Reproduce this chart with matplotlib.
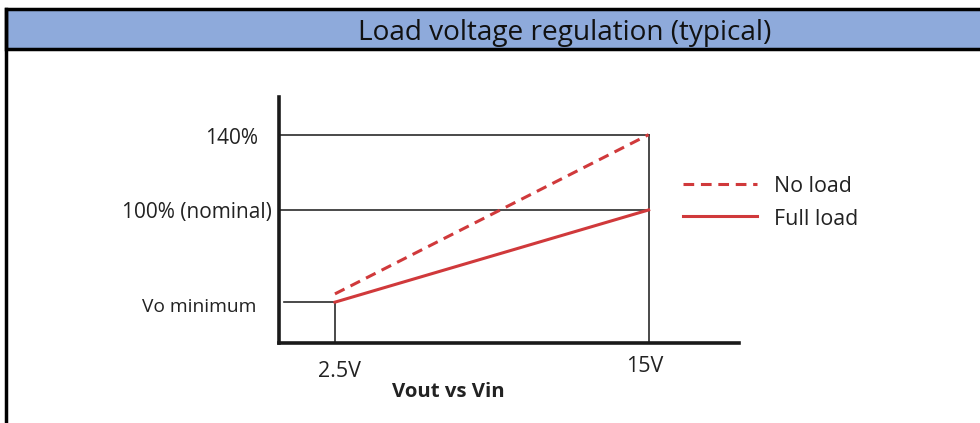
import matplotlib.pyplot as plt
from matplotlib.patches import Rectangle
from matplotlib.lines import Line2D

W, H = 980, 423

# values (Vin in volts, Vout in % of nominal)
vin = [2.5, 15.0]
no_load = [55.4, 140.0]
full_load = [51.0, 100.0]
vo_min = 51.0
nominal = 100.0
top_level = 140.0
x_tick_vals = [2.5, 15.0]
x_tick_labels = ["2.5V", "15V"]
y_labels = ["140%", "100% (nominal)", "Vo minimum"]
series_names = ["No load", "Full load"]

RED = "#D0393B"
GUIDE = "#2b2b2b"
FONT = "Open Sans"


def px(x0, y0, x1, y1):
    """pixel box (top-left origin) -> figure fraction rect"""
    return [x0 / W, 1 - y1 / H, (x1 - x0) / W, (y1 - y0) / H]


def main() -> None:
    plt.rcParams["font.family"] = [FONT, "DejaVu Sans"]
    fig = plt.figure(figsize=(W / 100, H / 100), dpi=100)

    # header band
    fig.patches.append(Rectangle((6 / W, 1 - 49 / H), 1.2, 40 / H, transform=fig.transFigure,
                                 facecolor="#8EAADB", edgecolor="black", lw=2.5))
    fig.add_artist(Line2D([6 / W, 6 / W], [0, 1 - 9 / H], color="black", lw=2.5))
    fig.text(565 / W, 1 - 33 / H, "Load voltage regulation (typical)", ha="center",
             va="center", fontsize=20.2, color="#111111")

    ax = fig.add_axes(px(279, 97, 739, 343))
    xmin, xmax = 0.27, 18.6
    ymin, ymax = 29.3, 160.0
    ax.set_xlim(xmin, xmax)
    ax.set_ylim(ymin, ymax)
    for side in ("top", "right"):
        ax.spines[side].set_visible(False)
    for side in ("left", "bottom"):
        ax.spines[side].set_linewidth(2.6)
        ax.spines[side].set_color("#1a1a1a")
    ax.set_xticks([])
    ax.set_yticks([])
    ax.patch.set_alpha(0)

    # guide lines
    ax.plot([xmin, vin[1]], [top_level, top_level], color=GUIDE, lw=1.2)
    ax.plot([xmin, vin[1]], [nominal, nominal], color=GUIDE, lw=1.2)
    ax.plot([vin[1], vin[1]], [ymin, top_level], color=GUIDE, lw=1.2)
    ax.plot([0.45, vin[0]], [vo_min, vo_min], color=GUIDE, lw=1.2)
    ax.plot([vin[0], vin[0]], [ymin, vo_min], color=GUIDE, lw=1.2)

    ax.plot(vin, no_load, color=RED, lw=2.2, ls=(0, (3.5, 2.2)))
    ax.plot(vin, full_load, color=RED, lw=2.2)

    # y labels
    label_y = [top_level, nominal, vo_min]
    label_off = [(-15, -2.5), (-5, -1.5), (-16.5, -3.5)]
    label_size = [15, 15, 13.8]
    for txt, yv, off, fs in zip(y_labels, label_y, label_off, label_size):
        ax.annotate(txt, (xmin, yv), xytext=off, textcoords="offset points",
                    ha="right", va="center", fontsize=fs, color="#222222")

    # x labels
    for xv, txt, off in zip(x_tick_vals, x_tick_labels, [(3, -20.5), (-3, -17)]):
        ax.annotate(txt, (xv, ymin), xytext=off, textcoords="offset points",
                    ha="center", va="center", fontsize=15.5, color="#222222")
    ax.annotate("Vout vs Vin", (7.0, ymin), xytext=(0, -35), textcoords="offset points",
                ha="center", va="center", fontsize=14.7, fontweight="bold", color="#222222")

    # legend (drawn by hand to sit where the original does)
    leg = fig.add_axes(px(680, 170, 900, 232))
    leg.set_xlim(0, 1)
    leg.set_ylim(0, 1)
    leg.axis("off")
    for i, name in enumerate(series_names):
        yy = 0.78 - i * 0.53
        leg.plot([0.015, 0.35], [yy, yy], color=RED, lw=2.2,
                 ls=(0, (3.5, 2.2)) if i == 0 else "-")
        leg.text(0.427, yy - 0.045, name, ha="left", va="center", fontsize=15.4, color="#222222")

    fig.savefig("out.png", dpi=100)


if __name__ == "__main__":
    main()
